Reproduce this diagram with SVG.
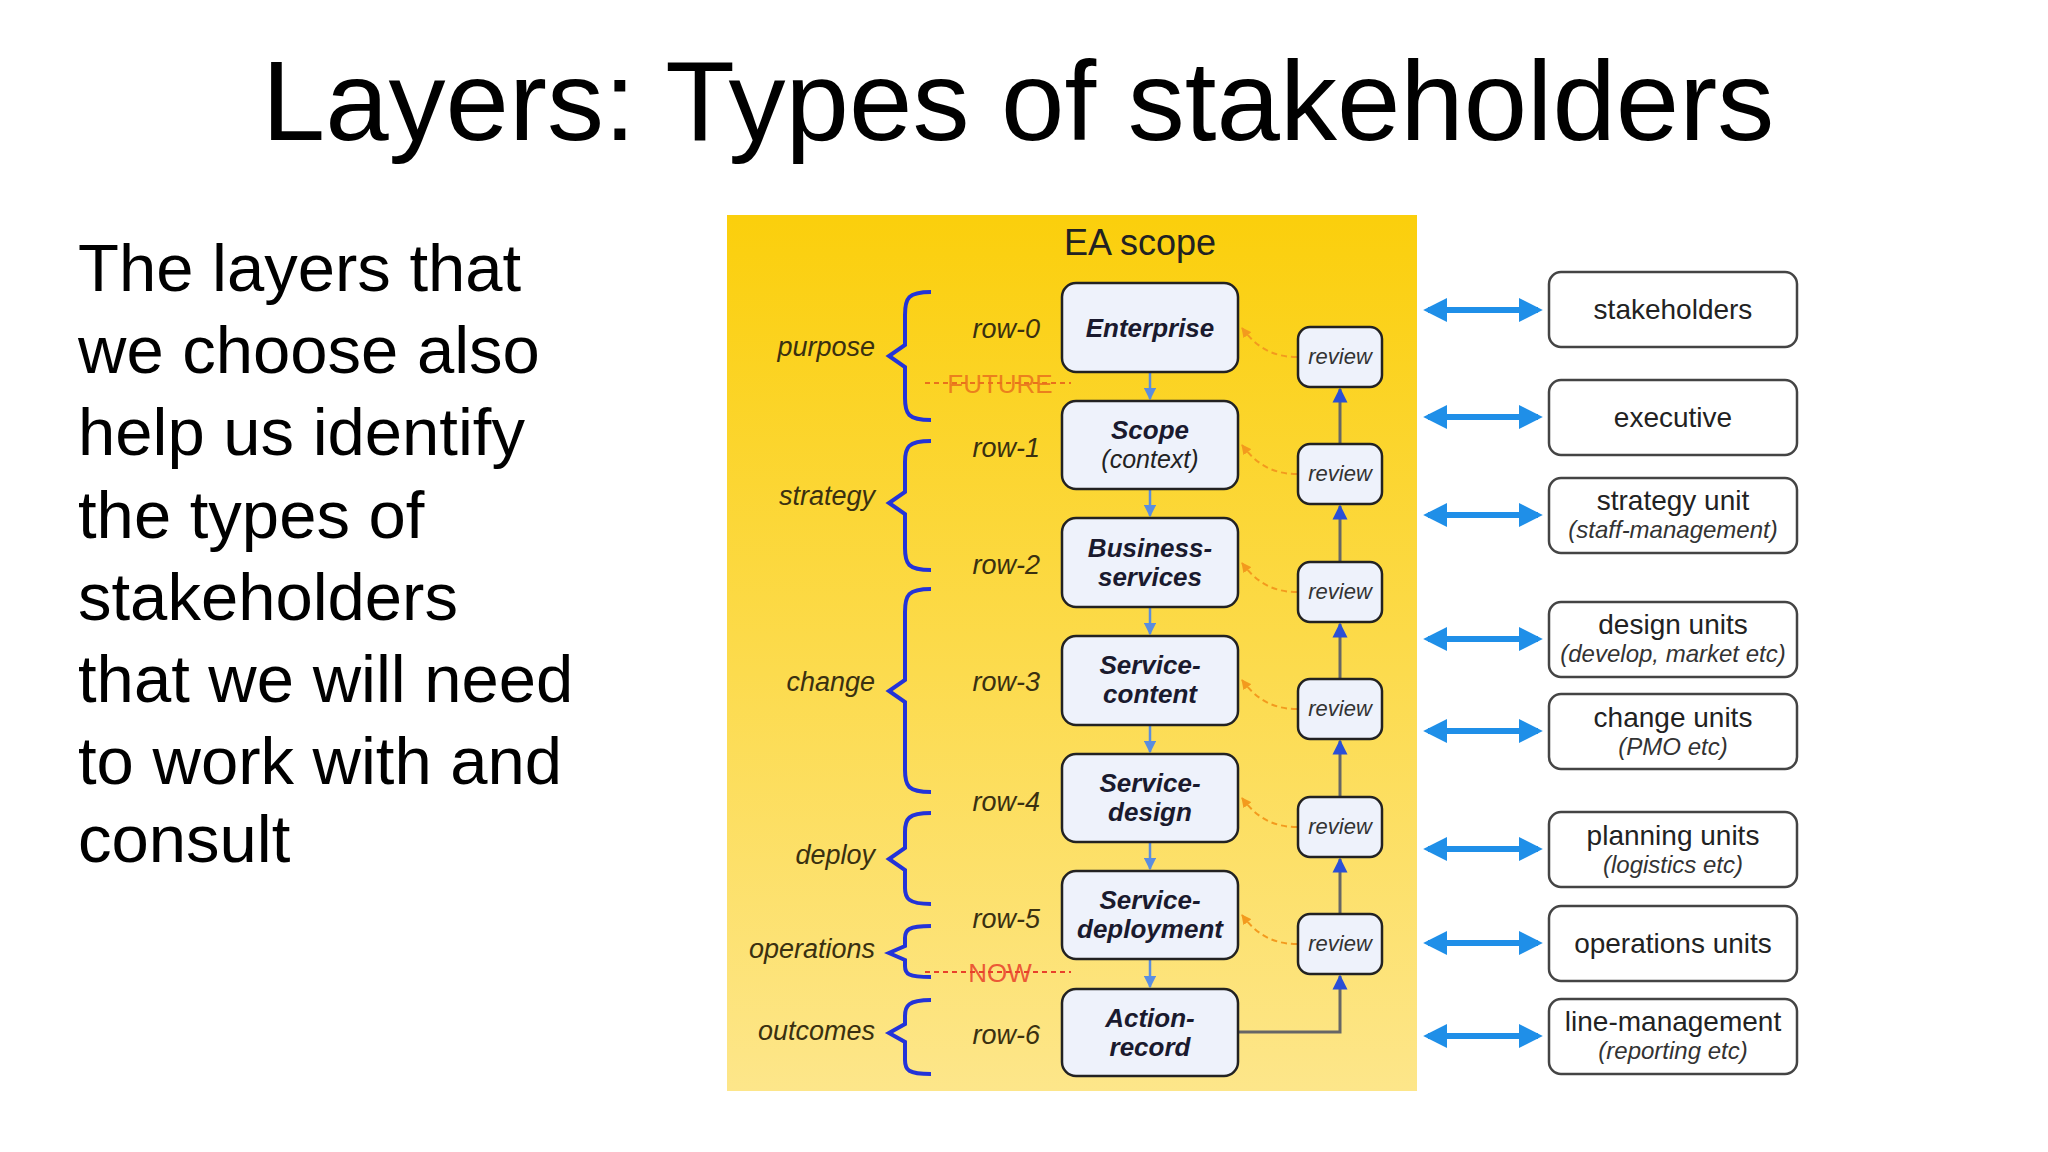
<svg xmlns="http://www.w3.org/2000/svg" width="2048" height="1152" viewBox="0 0 2048 1152">
<defs>
<linearGradient id="yg" x1="0" y1="0" x2="0" y2="1"><stop offset="0" stop-color="#fbcf0c"/><stop offset="1" stop-color="#fde68a"/></linearGradient>
<marker id="ab" viewBox="0 0 10 10" refX="9" refY="5" markerWidth="5" markerHeight="5" orient="auto"><path d="M0,0L10,5L0,10z" fill="#5a8de0"/></marker>
<marker id="ab2" viewBox="0 0 10 10" refX="9" refY="5" markerWidth="5" markerHeight="6" orient="auto"><path d="M0,0L10,5L0,10z" fill="#2a4fd6"/></marker>
<marker id="ao" viewBox="0 0 10 10" refX="9" refY="5" markerWidth="5" markerHeight="5" orient="auto"><path d="M0,0L10,5L0,10z" fill="#f39a1e"/></marker>
<marker id="bd" viewBox="0 0 10 10" refX="8" refY="5" markerWidth="4" markerHeight="4" orient="auto-start-reverse"><path d="M0,0L10,5L0,10z" fill="#1f8fe8"/></marker>
</defs>
<style>
text{font-family:"Liberation Sans",Arial,sans-serif;}
.box{fill:#eef2fb;stroke:#222;stroke-width:2.5;}
.bt{font-size:26px;font-weight:bold;font-style:italic;fill:#1a1a2e;text-anchor:middle;}
.bs{font-size:25px;font-style:italic;fill:#222;text-anchor:middle;}
.rw{font-size:27px;font-style:italic;fill:#3a3010;text-anchor:end;}
.gl{font-size:27px;font-style:italic;fill:#3a3010;text-anchor:end;}
.rv{font-size:22px;font-style:italic;fill:#333;text-anchor:middle;}
.br{fill:none;stroke:#2333d8;stroke-width:4;}
.sk{fill:#fff;stroke:#444;stroke-width:2.5;}
.st{font-size:28px;fill:#222;text-anchor:middle;}
.ss{font-size:24px;font-style:italic;fill:#333;text-anchor:middle;}
.da{stroke:#1f8fe8;stroke-width:6;marker-start:url(#bd);marker-end:url(#bd);}
.dn{stroke:#5a8de0;stroke-width:2.5;marker-end:url(#ab);}
.up{stroke:#666;stroke-width:3;marker-end:url(#ab2);fill:none;}
.or{stroke:#f39a1e;stroke-width:2;stroke-dasharray:6 4;fill:none;marker-end:url(#ao);}
.left{font-size:67px;fill:#000;}
</style>
<rect width="2048" height="1152" fill="#fff"/>
<text x="1018" y="140" font-size="114" text-anchor="middle" fill="#000">Layers: Types of stakeholders</text>
<g id="bodytext">
<text class="left" x="78" y="291">The layers that</text>
<text class="left" x="78" y="373">we choose also</text>
<text class="left" x="78" y="455">help us identify</text>
<text class="left" x="78" y="538">the types of</text>
<text class="left" x="78" y="620">stakeholders</text>
<text class="left" x="78" y="702">that we will need</text>
<text class="left" x="78" y="784">to work with and</text>
<text class="left" x="78" y="862">consult</text>
</g>
<rect id="panel" x="727" y="215" width="690" height="876" fill="url(#yg)"/>
<text x="1140" y="255" font-size="36" text-anchor="middle" fill="#222">EA scope</text>
<g id="connectors">
<line class="dn" x1="1150" y1="372" x2="1150" y2="399"/>
<line class="dn" x1="1150" y1="489" x2="1150" y2="516"/>
<line class="dn" x1="1150" y1="607" x2="1150" y2="634"/>
<line class="dn" x1="1150" y1="725" x2="1150" y2="752"/>
<line class="dn" x1="1150" y1="842" x2="1150" y2="869"/>
<line class="dn" x1="1150" y1="959" x2="1150" y2="987"/>
<line class="up" x1="1340" y1="444" x2="1340" y2="389"/>
<line class="up" x1="1340" y1="562" x2="1340" y2="506"/>
<line class="up" x1="1340" y1="679" x2="1340" y2="624"/>
<line class="up" x1="1340" y1="797" x2="1340" y2="741"/>
<line class="up" x1="1340" y1="914" x2="1340" y2="859"/>
<path class="up" d="M1238,1032H1340V976"/>
<path class="or" d="M1297,357C1270,357 1255,345 1242,328"/>
<path class="or" d="M1297,474C1270,474 1255,462 1242,445"/>
<path class="or" d="M1297,592C1270,592 1255,580 1242,563"/>
<path class="or" d="M1297,709C1270,709 1255,697 1242,680"/>
<path class="or" d="M1297,827C1270,827 1255,815 1242,798"/>
<path class="or" d="M1297,944C1270,944 1255,932 1242,915"/>
<line class="da" x1="1428" y1="310" x2="1538" y2="310"/>
<line class="da" x1="1428" y1="417" x2="1538" y2="417"/>
<line class="da" x1="1428" y1="515" x2="1538" y2="515"/>
<line class="da" x1="1428" y1="639" x2="1538" y2="639"/>
<line class="da" x1="1428" y1="731" x2="1538" y2="731"/>
<line class="da" x1="1428" y1="849" x2="1538" y2="849"/>
<line class="da" x1="1428" y1="943" x2="1538" y2="943"/>
<line class="da" x1="1428" y1="1036" x2="1538" y2="1036"/>
</g>
<g id="braces">
<path class="br" d="M931,292C908,292 905,298 905,315V345L889,356L905,367V398C905,414 908,420 931,420"/>
<path class="br" d="M931,441C908,441 905,447 905,462V492L889,503L905,514V548C905,564 908,570 931,570"/>
<path class="br" d="M931,589C908,589 905,595 905,612V680L889,691L905,702V770C905,786 908,792 931,792"/>
<path class="br" d="M931,813C908,813 905,819 905,832V848L889,859L905,870V888C905,898 908,904 931,904"/>
<path class="br" d="M931,926C908,926 905,930 905,938V946L889,953L905,960V966C905,974 908,977 931,977"/>
<path class="br" d="M931,1000C908,1000 905,1006 905,1016V1024L889,1033L905,1042V1060C905,1070 908,1074 931,1074"/>
</g>
<g id="groups">
<text class="gl" x="875" y="356">purpose</text>
<text class="gl" x="875" y="505">strategy</text>
<text class="gl" x="875" y="691">change</text>
<text class="gl" x="875" y="864">deploy</text>
<text class="gl" x="875" y="958">operations</text>
<text class="gl" x="875" y="1040">outcomes</text>
</g>
<g id="markers">
<line x1="925" y1="383" x2="1071" y2="383" stroke="#e9711c" stroke-width="2" stroke-dasharray="5 4"/>
<text x="1000" y="393" font-size="26" fill="#e9711c" fill-opacity="0.85" text-anchor="middle">FUTURE</text>
<line x1="925" y1="972" x2="1071" y2="972" stroke="#e8402a" stroke-width="2" stroke-dasharray="5 4"/>
<text x="1000" y="982" font-size="26" fill="#e8402a" fill-opacity="0.85" text-anchor="middle">NOW</text>
</g>
<g id="rows">
<text class="rw" x="1040" y="338">row-0</text>
<text class="rw" x="1040" y="457">row-1</text>
<text class="rw" x="1040" y="574">row-2</text>
<text class="rw" x="1040" y="691">row-3</text>
<text class="rw" x="1040" y="811">row-4</text>
<text class="rw" x="1040" y="928">row-5</text>
<text class="rw" x="1040" y="1044">row-6</text>
</g>
<g id="n0"><rect class="box" x="1062" y="283" width="176" height="89" rx="14"/><text class="bt" x="1150" y="337">Enterprise</text></g>
<g id="n1"><rect class="box" x="1062" y="401" width="176" height="88" rx="14"/><text class="bt" x="1150" y="439">Scope</text><text class="bs" x="1150" y="468">(context)</text></g>
<g id="n2"><rect class="box" x="1062" y="518" width="176" height="89" rx="14"/><text class="bt" x="1150" y="557">Business-</text><text class="bt" x="1150" y="586">services</text></g>
<g id="n3"><rect class="box" x="1062" y="636" width="176" height="89" rx="14"/><text class="bt" x="1150" y="674">Service-</text><text class="bt" x="1150" y="703">content</text></g>
<g id="n4"><rect class="box" x="1062" y="754" width="176" height="88" rx="14"/><text class="bt" x="1150" y="792">Service-</text><text class="bt" x="1150" y="821">design</text></g>
<g id="n5"><rect class="box" x="1062" y="871" width="176" height="88" rx="14"/><text class="bt" x="1150" y="909">Service-</text><text class="bt" x="1150" y="938">deployment</text></g>
<g id="n6"><rect class="box" x="1062" y="989" width="176" height="87" rx="14"/><text class="bt" x="1150" y="1027">Action-</text><text class="bt" x="1150" y="1056">record</text></g>
<g id="r0"><rect class="box" x="1298" y="327" width="84" height="60" rx="12"/><text class="rv" x="1340" y="364">review</text></g>
<g id="r1"><rect class="box" x="1298" y="444" width="84" height="60" rx="12"/><text class="rv" x="1340" y="481">review</text></g>
<g id="r2"><rect class="box" x="1298" y="562" width="84" height="60" rx="12"/><text class="rv" x="1340" y="599">review</text></g>
<g id="r3"><rect class="box" x="1298" y="679" width="84" height="60" rx="12"/><text class="rv" x="1340" y="716">review</text></g>
<g id="r4"><rect class="box" x="1298" y="797" width="84" height="60" rx="12"/><text class="rv" x="1340" y="834">review</text></g>
<g id="r5"><rect class="box" x="1298" y="914" width="84" height="60" rx="12"/><text class="rv" x="1340" y="951">review</text></g>
<g id="s0"><rect class="sk" x="1549" y="272" width="248" height="75" rx="12"/><text class="st" x="1673" y="319">stakeholders</text></g>
<g id="s1"><rect class="sk" x="1549" y="380" width="248" height="75" rx="12"/><text class="st" x="1673" y="427">executive</text></g>
<g id="s2"><rect class="sk" x="1549" y="478" width="248" height="75" rx="12"/><text class="st" x="1673" y="510">strategy unit</text><text class="ss" x="1673" y="538">(staff-management)</text></g>
<g id="s3"><rect class="sk" x="1549" y="602" width="248" height="75" rx="12"/><text class="st" x="1673" y="634">design units</text><text class="ss" x="1673" y="662">(develop, market etc)</text></g>
<g id="s4"><rect class="sk" x="1549" y="694" width="248" height="75" rx="12"/><text class="st" x="1673" y="727">change units</text><text class="ss" x="1673" y="755">(PMO etc)</text></g>
<g id="s5"><rect class="sk" x="1549" y="812" width="248" height="75" rx="12"/><text class="st" x="1673" y="845">planning units</text><text class="ss" x="1673" y="873">(logistics etc)</text></g>
<g id="s6"><rect class="sk" x="1549" y="906" width="248" height="75" rx="12"/><text class="st" x="1673" y="953">operations units</text></g>
<g id="s7"><rect class="sk" x="1549" y="999" width="248" height="75" rx="12"/><text class="st" x="1673" y="1031">line-management</text><text class="ss" x="1673" y="1059">(reporting etc)</text></g>
</svg>
